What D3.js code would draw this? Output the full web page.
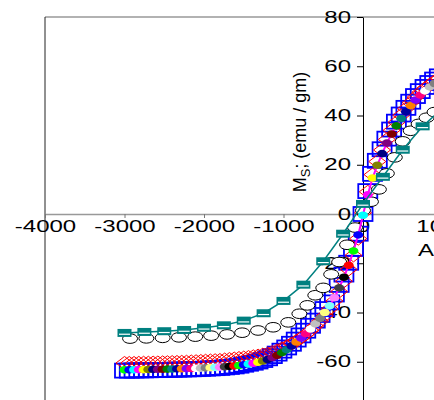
<!DOCTYPE html>
<html><head><meta charset="utf-8">
<script src="https://cdn.jsdelivr.net/npm/d3@7/dist/d3.min.js"></script>
<style>body{margin:0;background:#fff}svg{display:block}</style>
</head><body>
<svg id="chart" width="434" height="400"></svg>
<script>
// ---------- data ----------
const xTicks = [-4000,-3000,-2000,-1000,0,1000];
const yTicks = [-60,-40,-20,0,20,40,60,80];

// field grid (Oe) shared by the dense series
const fieldH = [-3000,-2940,-2880,-2820,-2760,-2700,-2640,-2580,-2520,-2460,
  -2400,-2340,-2280,-2220,-2160,-2100,-2040,-1980,-1920,-1860,
  -1800,-1740,-1680,-1620,-1560,-1500,-1440,-1380,-1320,-1260,
  -1200,-1140,-1080,-1020,-960,-900,-840,-780,-720,-660,
  -600,-540,-480,-420,-360,-300,-240,-180,-120,-60,
  0,60,120,180,240,300,360,420,480,540,
  600,660,720,780,840,900,960];
// filled circles (colour cycles through Origin palette)
const filledM = [-63.3,-63.3,-63.25,-63.2,-63.2,-63.15,-63.1,-63.1,-63.05,-63.0,
  -62.95,-62.9,-62.85,-62.8,-62.75,-62.7,-62.6,-62.5,-62.4,-62.3,
  -62.2,-62.05,-61.9,-61.7,-61.5,-61.2,-60.9,-60.6,-60.2,-59.7,
  -59.1,-58.3,-57.4,-56.3,-55.1,-53.6,-52.0,-50.4,-48.6,-46.7,
  -44.6,-42.4,-40.0,-37.3,-34.0,-30.0,-25.7,-20.8,-15.0,-8.5,
  -0.5,7.8,14.6,19.8,24.5,28.8,32.5,35.8,38.8,41.5,
  44.0,46.3,48.3,50.0,51.6,53.0,54.3];
// blue open squares
const blueM = [-63.6,-63.6,-63.55,-63.5,-63.5,-63.45,-63.4,-63.4,-63.35,-63.3,
  -63.25,-63.2,-63.15,-63.1,-63.05,-63.0,-62.9,-62.8,-62.7,-62.6,
  -62.5,-62.3,-62.1,-61.9,-61.6,-61.2,-60.8,-60.4,-59.9,-59.3,
  -58.6,-57.7,-56.7,-55.5,-54.2,-52.7,-51.0,-49.3,-47.4,-45.4,
  -43.3,-41.0,-38.6,-35.9,-32.7,-28.8,-24.6,-19.8,-14.2,-8.0,
  0.0,9.3,16.3,21.6,26.3,30.6,34.3,37.5,40.4,43.1,
  45.6,47.9,49.9,51.6,53.2,54.6,55.9];
// red open diamonds
const redM = [-60.5,-60.5,-60.5,-60.45,-60.4,-60.4,-60.35,-60.3,-60.25,-60.2,
  -60.15,-60.1,-60.05,-60.0,-59.9,-59.8,-59.7,-59.6,-59.5,-59.4,
  -59.3,-59.1,-58.9,-58.7,-58.5,-58.3,-58.1,-57.8,-57.5,-57.1,
  -56.7,-56.1,-55.4,-54.6,-53.7,-52.7,-51.6,-50.3,-48.9,-47.3,
  -45.5,-43.5,-41.2,-38.5,-35.3,-31.5,-27.3,-22.5,-16.8,-10.0,
  0.5,9.0,16.0,21.3,26.0,30.3,34.0,37.2,40.1,42.8,
  45.2,47.4,49.4,51.0,52.5,53.9,55.1];
// open black circles
const openH = [-2930,-2725,-2520,-2315,-2110,-1910,-1710,-1520,-1320,-1130,-940,-800,-700,-600,-500,-400,-300,-200,-100,0,100,200,300,400,500,600,700,800,900];
const openM = [-50.6,-50.5,-50.3,-50.1,-49.8,-49.4,-48.9,-48.2,-47.3,-46.0,-44.0,-40.5,-37.1,-33.0,-30.0,-24.5,-19.5,-12.5,-5.5,1.5,5.0,10.0,16.5,23.0,29.5,33.8,36.6,39.1,41.4];
// dark cyan squares with line
const tealH = [-3000,-2750,-2500,-2250,-2000,-1750,-1500,-1250,-1000,-750,-500,-250,0,250,500,750,1000];
const tealM = [-48.3,-47.9,-47.6,-47.1,-46.2,-45.2,-43.3,-40.3,-35.3,-28.7,-19.2,-8.0,4.1,15.1,26.1,35.6,43.0];

const originColors = ["#000000","#FF0000","#00FF00","#0000FF","#00FFFF","#FF00FF","#FFFF00","#808000",
  "#000080","#800080","#800000","#008000","#008080","#0000A0","#FF8000","#8000FF",
  "#FF0080","#FFFFFF","#C0C0C0","#808080","#FFFF80","#80FFFF","#FF80FF","#404040"];
const colorOffset = 2; // colour index of first point

// ---------- drawing ----------
const svg = d3.select("#chart");
svg.append("defs").append("clipPath").attr("id","clip")
  .append("rect").attr("x",0).attr("y",0).attr("width",434).attr("height",400);
const root = svg.append("g").attr("clip-path","url(#clip)");

const x = d3.scaleLinear().domain([-4000,1000]).range([45,442.5]);
const y = d3.scaleLinear().domain([-80,80]).range([411,17]);
const FONT = "Arial, 'Liberation Sans', sans-serif";
const SX = 1.5;

// frame
root.append("line").attr("x1",x(-4000)).attr("x2",434).attr("y1",y(80)).attr("y2",y(80))
  .attr("stroke","#999").attr("stroke-width",1.5);
root.append("line").attr("x1",x(-4000)).attr("x2",x(-4000)).attr("y1",y(80)).attr("y2",400)
  .attr("stroke","#222").attr("stroke-width",1);

// x axis
const gx = root.append("g").attr("transform",`translate(0,${y(0)})`)
  .call(d3.axisBottom(x).tickValues(xTicks).tickSize(4).tickSizeOuter(0).tickFormat(d=>d));
gx.select(".domain").attr("stroke","#999").attr("stroke-width",1.5);
gx.selectAll(".tick line").attr("stroke","#777");
gx.selectAll(".tick text").attr("font-family",FONT).attr("font-size",16).attr("fill","#000")
  .attr("transform",`scale(${SX},1)`);

// y axis
const gy = root.append("g").attr("transform",`translate(${x(0)},0)`)
  .call(d3.axisLeft(y).tickValues(yTicks).tickSize(6).tickSizeOuter(0).tickFormat(d=>d));
gy.select(".domain").attr("stroke","#000").attr("stroke-width",1);
gy.selectAll(".tick line").attr("stroke","#000");
gy.selectAll(".tick text").attr("font-family",FONT).attr("font-size",16).attr("fill","#000")
  .attr("x",-8).attr("transform",`scale(${SX},1)`);

// axis titles
root.append("text").attr("transform",`translate(418,256) scale(${SX},1)`)
  .attr("font-family",FONT).attr("font-size",16).text("Applied Field (Oe)");
const yt = root.append("text").attr("transform","translate(306,132) rotate(-90)")
  .attr("text-anchor","middle").attr("font-family",FONT).attr("font-size",18);
yt.append("tspan").text("M");
yt.append("tspan").attr("font-size",13).attr("dy",4).text("S");
yt.append("tspan").attr("dy",-4).text("; (emu / gm)");

const dense = fieldH.map((h,i)=>({h, f:filledM[i], b:blueM[i], r:redM[i], i}));

// blue open squares
root.append("g").selectAll("rect").data(dense).join("rect")
  .attr("x",d=>x(d.h)-9.5).attr("y",d=>y(d.b)-7).attr("width",19).attr("height",14)
  .attr("fill","none").attr("stroke","#0000FF").attr("stroke-width",1.8);

// red open diamonds
root.append("g").selectAll("path").data(dense).join("path")
  .attr("transform",d=>`translate(${x(d.h)},${y(d.r)})`)
  .attr("d","M0,-6.5L8.5,0L0,6.5L-8.5,0Z")
  .attr("fill","none").attr("stroke","#FF0000").attr("stroke-width",1);

// open circles
const openPts = openH.map((h,i)=>({h,m:openM[i]}));
root.append("g").selectAll("ellipse").data(openPts).join("ellipse")
  .attr("cx",d=>x(d.h)).attr("cy",d=>y(d.m)).attr("rx",7.5).attr("ry",4.8)
  .attr("fill","#fff").attr("stroke","#000").attr("stroke-width",1);

// filled circles with magenta line
root.append("path").datum(dense)
  .attr("d",d3.line().x(d=>x(d.h)).y(d=>y(d.f)))
  .attr("fill","none").attr("stroke","#FF00FF").attr("stroke-width",2);
root.append("g").selectAll("ellipse").data(dense).join("ellipse")
  .attr("cx",d=>x(d.h)).attr("cy",d=>y(d.f)).attr("rx",5).attr("ry",3.8)
  .attr("fill",d=>originColors[(d.i+colorOffset)%24]);

// teal series
const tealPts = tealH.map((h,i)=>({h,m:tealM[i]}));
root.append("path").datum(tealPts)
  .attr("d",d3.line().x(d=>x(d.h)).y(d=>y(d.m)))
  .attr("fill","none").attr("stroke","#008080").attr("stroke-width",1.5);
const tg = root.append("g").selectAll("g").data(tealPts).join("g")
  .attr("transform",d=>`translate(${x(d.h)},${y(d.m)})`);
tg.append("rect").attr("x",-7).attr("y",-4).attr("width",14).attr("height",8).attr("fill","#008080");
tg.append("line").attr("x1",-5.5).attr("x2",5.5).attr("y1",1.3).attr("y2",1.3).attr("stroke","#fff").attr("stroke-width",1.2);
</script>
</body></html>
